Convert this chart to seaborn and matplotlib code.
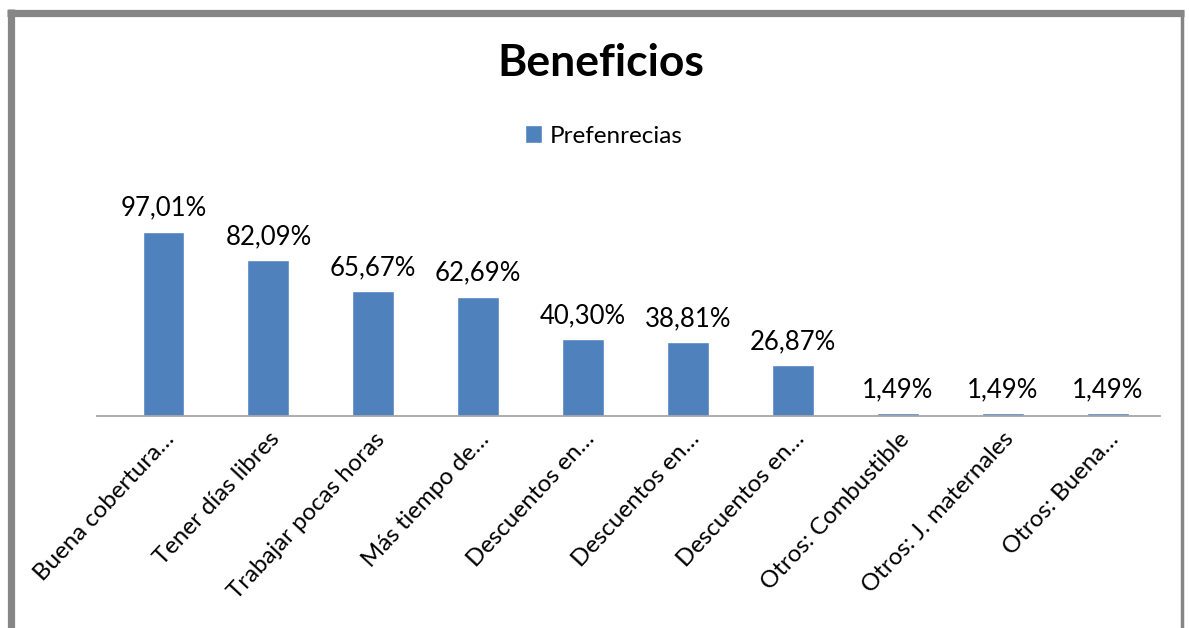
import matplotlib
matplotlib.use("Agg")
import pandas as pd
import matplotlib.pyplot as plt
import seaborn as sns
from matplotlib.lines import Line2D
from matplotlib.patches import Patch

# datos
categorias = [
    "Buena cobertura…",
    "Tener días libres",
    "Trabajar pocas horas",
    "Más tiempo de…",
    "Descuentos en…",
    "Descuentos en…",
    "Descuentos en…",
    "Otros: Combustible",
    "Otros: J. maternales",
    "Otros: Buena…",
]
valores = [97.01, 82.09, 65.67, 62.69, 40.30, 38.81, 26.87, 1.49, 1.49, 1.49]
serie = "Prefenrecias"
titulo = "Beneficios"

W, H = 1189, 628
azul = "#4F81BD"
gris = "#868686"

sns.set_theme(style="white")
plt.rcParams["font.family"] = ["Lato", "DejaVu Sans"]
plt.rcParams["text.color"] = "black"
plt.rcParams["xtick.color"] = "black"

fig = plt.figure(figsize=(W / 100, H / 100), dpi=100)
ax = fig.add_axes([97 / W, (H - 416) / H, (1160 - 97) / W, (416 - 188) / H])

df = pd.DataFrame({"Beneficio": range(len(categorias)), serie: valores})
sns.barplot(data=df, x="Beneficio", y=serie, color=azul, saturation=1,
            width=0.4, ax=ax)

ax.set_ylim(0, 120)
ax.set_xlim(-0.634, len(categorias) - 0.5)
for s in ["top", "right", "left"]:
    ax.spines[s].set_visible(False)
ax.spines["bottom"].set_color("#A6A6A6")
ax.spines["bottom"].set_linewidth(1.3)
ax.set_yticks([])
ax.set_xlabel("")
ax.set_ylabel("")
ax.set_xticks(range(len(categorias)))
ax.set_xticklabels(categorias, rotation=47, ha="right", rotation_mode="anchor",
                   fontsize=17.3, color="black")
ax.tick_params(axis="x", length=0, pad=9)

etiquetas = [f"{v:.2f}%".replace(".", ",") for v in valores]
ax.bar_label(ax.containers[0], labels=etiquetas, padding=8, fontsize=18.5, color="black")

fig.text(601 / W, 1 - 63 / H, titulo, ha="center", va="center",
         fontsize=32, fontweight="bold", color="black")
fig.legend(handles=[Patch(facecolor=azul, label=serie)], loc="center",
           bbox_to_anchor=(604 / W, 1 - 136 / H), frameon=False, fontsize=17.5,
           handlelength=0.7, handleheight=0.7, handletextpad=0.3)

# marco gris al estilo Excel
fig.add_artist(Line2D([10.5 / W, 10.5 / W], [0, 1 - 9 / H], color=gris, lw=5.2,
                      transform=fig.transFigure, solid_capstyle="butt"))
fig.add_artist(Line2D([7 / W, 1184 / W], [1 - 12.7 / H, 1 - 12.7 / H], color=gris, lw=5.2,
                      transform=fig.transFigure, solid_capstyle="butt"))
fig.add_artist(Line2D([1182 / W, 1182 / W], [0, 1 - 10 / H], color=gris, lw=2.5,
                      transform=fig.transFigure, solid_capstyle="butt"))

fig.savefig("out.png", dpi=100)
